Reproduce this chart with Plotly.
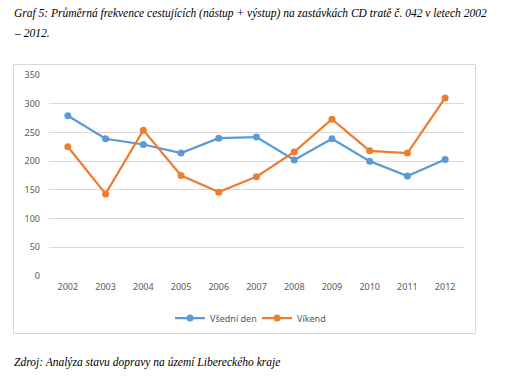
import plotly.graph_objects as go

years = ["2002", "2003", "2004", "2005", "2006", "2007", "2008", "2009", "2010", "2011", "2012"]
vsedni_den = [279, 239, 229, 214, 240, 242, 202, 239, 200, 174, 203]
vikend = [225, 143, 254, 175, 146, 173, 216, 273, 218, 214, 310]
y_ticks = [0, 50, 100, 150, 200, 250, 300, 350]

W, H = 518, 385
L, R, T, B = 49, 54, 75, 109

fig = go.Figure()
fig.add_trace(go.Scatter(x=years, y=vsedni_den, mode="lines+markers", name="Všední den",
                         line=dict(color="#5B9BD5", width=2.25), marker=dict(size=7, color="#5B9BD5")))
fig.add_trace(go.Scatter(x=years, y=vikend, mode="lines+markers", name="Víkend",
                         line=dict(color="#ED7D31", width=2.25), marker=dict(size=7, color="#ED7D31")))

def px_x(x):
    return (x - L) / (W - L - R)

def px_y(y):
    return (H - B - y) / (H - T - B)

serif = dict(family="Liberation Serif", size=11.5, color="black")

fig.update_layout(
    width=W, height=H,
    margin=dict(l=L, r=R, t=T, b=B, autoexpand=False),
    paper_bgcolor="white", plot_bgcolor="white",
    showlegend=True,
    legend=dict(orientation="h", x=px_x(170), xanchor="left", y=px_y(318), yanchor="middle",
                font=dict(family="Noto Sans", size=9, color="#595959"),
                itemwidth=30, entrywidth=42, entrywidthmode="pixels",
                tracegroupgap=0, bgcolor="rgba(0,0,0,0)"),
    xaxis=dict(type="category", range=[-0.5, len(years) - 0.5], showgrid=False, showline=False,
               zeroline=False, automargin=False,
               tickfont=dict(family="Noto Sans", size=9, color="#595959"), ticks="", ticklabelstandoff=4),
    yaxis=dict(range=[0, 350], tickvals=y_ticks, showgrid=True, gridcolor="#D9D9D9", gridwidth=1,
               zeroline=False, showline=False, ticks="", automargin=False,
               tickfont=dict(family="Noto Sans", size=9, color="#595959"), ticklabelstandoff=8),
    shapes=[dict(type="rect", xref="paper", yref="paper",
                 x0=px_x(13.5), x1=px_x(475.5), y0=px_y(333.5), y1=px_y(64.5),
                 line=dict(color="#D9D9D9", width=1), fillcolor="rgba(0,0,0,0)", layer="below")],
    annotations=[
        dict(xref="paper", yref="paper", x=px_x(12), y=px_y(14), xanchor="left", yanchor="middle",
             align="left", showarrow=False,
             text="<i>Graf 5: Průměrná frekvence cestujících (nástup + výstup) na zastávkách CD tratě č. 042 v letech 2002</i>",
             font=serif),
        dict(xref="paper", yref="paper", x=px_x(12), y=px_y(33), xanchor="left", yanchor="middle",
             align="left", showarrow=False, text="<i>– 2012.</i>", font=serif),
        dict(xref="paper", yref="paper", x=px_x(12), y=px_y(362), xanchor="left", yanchor="middle",
             showarrow=False, text="<i>Zdroj: Analýza stavu dopravy na území Libereckého kraje</i>",
             font=serif),
    ],
)

fig.write_html("out.html", config={"displayModeBar": False},
               post_script="document.body.style.margin='0px';")
